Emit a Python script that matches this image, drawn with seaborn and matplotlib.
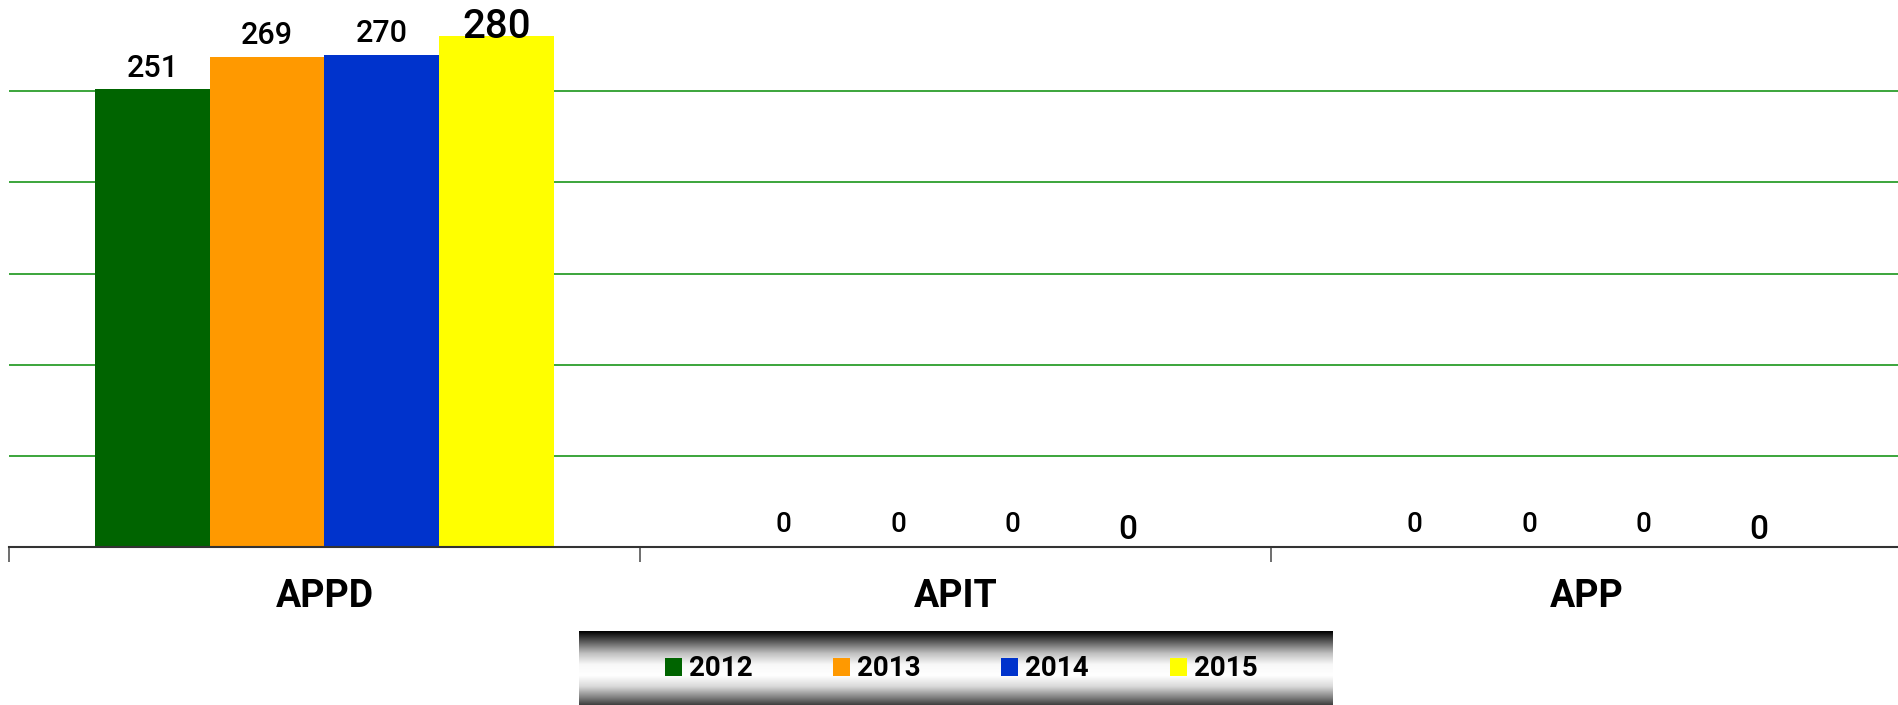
import numpy as np
import pandas as pd
import matplotlib
matplotlib.use("Agg")
import matplotlib.pyplot as plt
import seaborn as sns

categories = ["APPD", "APIT", "APP"]
years = ["2012", "2013", "2014", "2015"]
v2012 = [251, 0, 0]
v2013 = [269, 0, 0]
v2014 = [270, 0, 0]
v2015 = [280, 0, 0]
colors = ["#006400", "#FF9900", "#0033CC", "#FFFF00"]

series = {"2012": v2012, "2013": v2013, "2014": v2014, "2015": v2015}
rows = []
for y in years:
    for c, v in zip(categories, series[y]):
        rows.append({"category": c, "year": y, "value": v})
df = pd.DataFrame(rows)

sns.set_theme(style="white")
FONT = ["Roboto", "DejaVu Sans"]
plt.rcParams["font.family"] = FONT
plt.rcParams["text.color"] = "black"

W, H = 1899, 705
fig = plt.figure(figsize=(W / 100, H / 100), dpi=100)
ax = fig.add_axes([9 / W, (H - 547) / H, 1893 / W, 547 / H])

sns.barplot(data=df, x="category", y="value", hue="year", hue_order=years,
            palette=colors, saturation=1, width=0.726, ax=ax, legend=True,
            linewidth=0, edgecolor="none")

ax.set_ylim(0, 300)
ax.set_xlim(-0.5, 2.5)
ax.set_yticks([50, 100, 150, 200, 250])
ax.yaxis.grid(True, color="#1a961a", linewidth=1.2)
ax.set_axisbelow(True)
ax.tick_params(axis="y", left=False, labelleft=False)
for s in ["top", "right", "left"]:
    ax.spines[s].set_visible(False)
ax.spines["bottom"].set_color("#333333")
ax.spines["bottom"].set_linewidth(1.5)
ax.set_xlabel("")
ax.set_ylabel("")

ax.set_xticks([-0.5, 0.5, 1.5, 2.5], minor=True)
ax.tick_params(axis="x", which="minor", length=11, width=1.2, color="#555555", direction="out", bottom=True)
ax.tick_params(axis="x", which="major", length=0, pad=22)
for lab in ax.get_xticklabels():
    lab.set_fontsize(27)
    lab.set_fontweight("bold")
    lab.set_color("black")

# data labels
for i, cont in enumerate(ax.containers):
    big = (i == 3)
    texts = ax.bar_label(cont, padding=5, fontsize=22, color="black", fontweight="medium")
    for t, v in zip(texts, series[years[i]]):
        if big:
            t.set_fontsize(29 if v > 0 else 24)
            t.xyann = (0, -7 if v > 0 else 1)
        else:
            t.set_fontsize(22 if v > 0 else 20)
            t.xyann = (0, 4.5 if v > 0 else 6.5)

handles, labels = ax.get_legend_handles_labels()
ax.get_legend().remove()

# gradient legend background
lax = fig.add_axes([579 / W, 0, (1333 - 579) / W, 74 / H])
yy = np.linspace(0, 1, 200)
prof = np.interp(yy, [0, 0.08, 0.3, 0.45, 0.6, 0.75, 0.9, 1.0],
                 [0.0, 0.2, 0.75, 0.97, 1.0, 0.85, 0.5, 0.25])
lax.imshow(prof[:, None], cmap="gray", vmin=0, vmax=1, aspect="auto",
           extent=[0, 1, 0, 1], origin="upper")
lax.set_axis_off()

leg = fig.legend(handles, labels, loc="center", bbox_to_anchor=(961 / W, 1 - 669 / H),
                 ncol=4, frameon=False, prop={"family": FONT, "weight": "bold", "size": 20},
                 handlelength=0.62, handleheight=0.62, handletextpad=0.25, columnspacing=2.9,
                 borderaxespad=0, labelcolor="black")
leg.set_zorder(10)

fig.savefig("out.png", dpi=100)
